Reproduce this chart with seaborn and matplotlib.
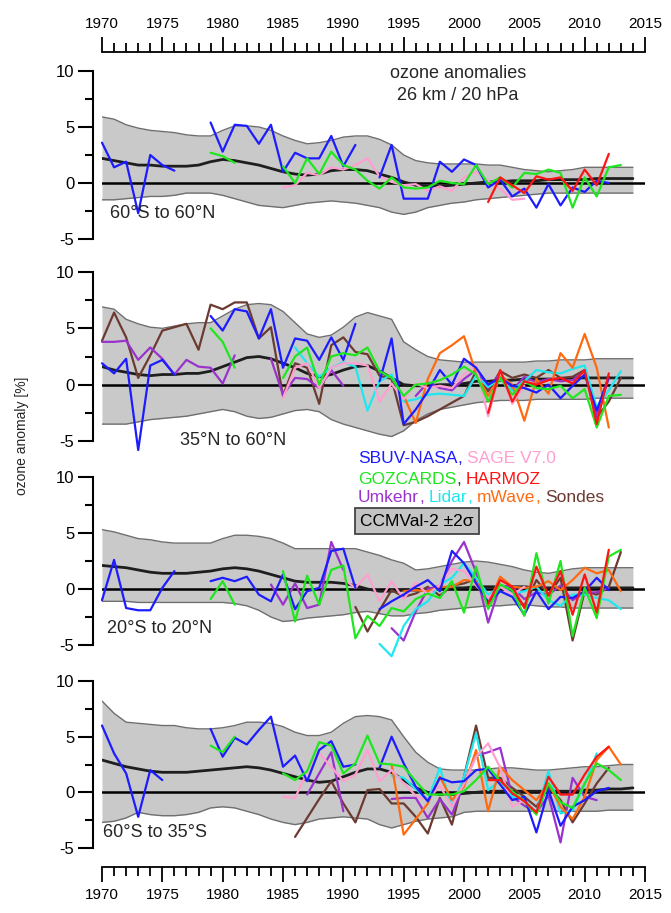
import matplotlib
matplotlib.use("Agg")
import matplotlib.pyplot as plt
from matplotlib.ticker import MultipleLocator, FixedLocator
import pandas as pd
import seaborn as sns

sns.set_style("white")
plt.rcParams["font.family"] = ["Liberation Sans", "DejaVu Sans"]
plt.rcParams["axes.unicode_minus"] = False

YEARS = list(range(1970, 2015))

# ---- CCMVal-2 model envelope (upper / lower 2-sigma) and multi-model mean, 1970-2014 ----
P1_UP = [5.9, 5.7, 5.2, 4.9, 4.7, 4.6, 4.5, 4.3, 4.2, 4.2, 4.7, 5.1, 5.1, 5.0, 4.7, 4.2, 3.8, 3.5, 3.6, 3.8,
         4.1, 4.2, 4.2, 3.9, 3.4, 2.5, 2.0, 1.8, 1.7, 1.7, 1.7, 1.7, 1.6, 1.6, 1.4, 1.2, 1.1, 1.0, 1.1, 1.2,
         1.4, 1.4, 1.4, 1.4, 1.4]
P1_LO = [-1.5, -1.5, -1.4, -1.3, -1.2, -1.2, -1.1, -0.9, -0.9, -0.9, -1.1, -1.4, -1.7, -2.0, -2.1, -2.2, -2.0,
         -1.8, -1.7, -1.6, -1.7, -1.8, -2.0, -2.2, -2.6, -2.8, -2.6, -2.2, -2.0, -1.8, -1.7, -1.5, -1.4, -1.3,
         -1.2, -1.1, -1.0, -0.9, -0.9, -0.9, -0.9, -0.9, -0.9, -0.9, -0.9]
P1_MEAN = [2.2, 2.0, 1.8, 1.6, 1.6, 1.5, 1.5, 1.5, 1.6, 1.9, 2.1, 2.0, 1.8, 1.6, 1.3, 1.0, 0.8, 0.7, 0.8, 1.1,
           1.2, 1.2, 1.1, 0.8, 0.5, 0.1, -0.2, -0.3, -0.3, -0.2, -0.1, 0.0, 0.1, 0.1, 0.2, 0.2, 0.2, 0.3, 0.3,
           0.3, 0.3, 0.4, 0.4, 0.4, 0.4]

P2_UP = [6.9, 6.7, 5.8, 5.4, 5.1, 5.0, 5.2, 5.4, 5.5, 5.5, 6.1, 6.7, 7.1, 7.2, 7.1, 6.5, 5.5, 4.5, 4.2, 4.4,
         5.1, 6.0, 6.4, 6.1, 5.8, 3.8, 3.1, 2.5, 2.2, 2.1, 2.0, 2.0, 2.0, 2.0, 2.0, 2.0, 2.1, 2.1, 2.2, 2.2,
         2.2, 2.3, 2.3, 2.3, 2.3]
P2_LO = [-3.5, -3.5, -3.5, -3.3, -3.1, -3.0, -2.9, -2.8, -2.6, -2.4, -2.2, -2.4, -2.8, -3.0, -2.9, -2.6, -2.3,
         -2.2, -2.4, -3.1, -3.5, -3.8, -4.1, -4.4, -4.6, -4.1, -3.2, -2.6, -2.2, -2.0, -1.8, -1.6, -1.5, -1.4,
         -1.4, -1.4, -1.3, -1.3, -1.3, -1.3, -1.3, -1.2, -1.2, -1.2, -1.2]
P2_MEAN = [1.6, 1.3, 1.1, 0.9, 0.8, 0.9, 0.9, 1.0, 1.0, 1.2, 1.6, 2.0, 2.4, 2.5, 2.3, 1.9, 1.5, 1.0, 0.7, 0.9,
           1.3, 1.6, 1.7, 1.2, 0.6, 0.0, -0.1, -0.1, 0.0, 0.0, 0.1, 0.3, 0.3, 0.4, 0.4, 0.5, 0.5, 0.5, 0.5,
           0.6, 0.6, 0.6, 0.6, 0.6, 0.6]

P3_UP = [5.3, 5.1, 4.8, 4.5, 4.4, 4.2, 4.1, 4.1, 4.1, 4.1, 4.5, 4.8, 4.8, 4.7, 4.5, 4.1, 3.6, 3.6, 3.6, 3.6,
         3.6, 3.6, 3.3, 3.0, 2.6, 2.3, 1.7, 1.8, 2.0, 2.2, 2.4, 2.5, 2.4, 2.2, 2.0, 1.7, 1.5, 1.4, 1.6, 1.8,
         1.9, 1.9, 1.9, 1.9, 1.9]
P3_LO = [-1.1, -1.1, -1.1, -1.2, -1.2, -1.2, -1.2, -1.2, -1.2, -1.2, -1.2, -1.3, -1.5, -1.9, -2.5, -2.9, -2.8,
         -2.6, -2.5, -2.4, -2.3, -2.1, -2.0, -2.2, -2.4, -2.4, -2.2, -2.1, -1.9, -1.8, -1.7, -1.6, -1.5, -1.5,
         -1.4, -1.4, -1.5, -1.6, -1.6, -1.7, -1.7, -1.7, -1.7, -1.7, -1.7]
P3_MEAN = [2.1, 2.0, 1.9, 1.7, 1.5, 1.4, 1.4, 1.4, 1.5, 1.6, 1.8, 1.9, 1.8, 1.6, 1.3, 1.0, 0.7, 0.6, 0.6, 0.6,
           0.5, 0.3, 0.0, -0.2, -0.2, -0.1, -0.1, 0.0, 0.0, 0.1, 0.1, 0.2, 0.2, 0.2, 0.2, 0.2, 0.1, 0.1, 0.1,
           0.1, 0.1, 0.1, 0.1, 0.1, 0.1]

P4_UP = [8.2, 7.1, 6.3, 6.2, 6.1, 6.0, 6.0, 5.8, 5.7, 5.7, 5.8, 6.0, 6.3, 6.3, 6.2, 5.9, 5.4, 5.1, 5.1, 5.4,
         6.2, 6.8, 6.9, 6.8, 6.5, 5.0, 3.6, 2.7, 2.1, 2.0, 2.0, 2.0, 2.1, 2.2, 2.2, 2.1, 2.0, 2.0, 2.1, 2.2,
         2.3, 2.3, 2.4, 2.5, 2.5]
P4_LO = [-2.7, -2.6, -2.3, -1.8, -2.0, -2.1, -2.1, -2.0, -1.8, -1.4, -1.3, -1.4, -1.7, -2.0, -2.4, -2.7, -2.9,
         -2.7, -2.4, -2.3, -2.2, -2.3, -2.4, -2.9, -3.2, -2.9, -2.6, -2.4, -2.3, -2.2, -1.8, -1.7, -1.7, -1.7,
         -1.7, -1.7, -1.7, -1.7, -1.7, -1.7, -1.7, -1.7, -1.6, -1.6, -1.6]
P4_MEAN = [2.9, 2.6, 2.3, 2.1, 1.9, 1.8, 1.8, 1.8, 1.9, 2.0, 2.1, 2.2, 2.3, 2.2, 2.0, 1.7, 1.4, 1.1, 0.9, 1.0,
           1.4, 1.8, 2.1, 2.1, 1.8, 1.1, 0.4, 0.0, -0.2, -0.2, -0.1, 0.0, 0.1, 0.1, 0.1, 0.1, 0.1, 0.1, 0.1,
           0.1, 0.2, 0.2, 0.3, 0.3, 0.4]

# ---- observed annual anomalies [%]: (first year, values); None marks a missing year ----
P1_SBUV = (1970, [3.6, 1.4, 1.9, -2.7, 2.5, 1.6, 1.1, None, None, 5.4, 2.8, 5.2, 5.1, 3.5, 5.2, 1.0, 2.7, 2.2,
                  2.2, 4.2, 1.5, 3.4, None, 0.5, 3.4, -1.4, -1.4, -1.4, 1.9, 1.0, 2.1, 1.6, -0.4, 0.3, -1.2,
                  -0.5, -2.2, -0.1, -2.0, -0.4, -0.8, 0.2, 0.0])
P1_SAGE = (1985, [-0.4, -0.2, 0.9, 0.7, 1.4, 1.2, 1.6, 2.2, 0.6, 0.1, -0.2, -0.1, -0.7, -0.3, -0.7, 0.5, 1.0,
                  0.2, -0.5, -1.5, -1.4])
P1_GOZCARDS = (1979, [2.7, 2.4, 1.8, None, None, None, 1.5, 0.0, 2.2, 0.8, 2.8, 1.6, 1.2, 0.2, -0.5, 0.5, -0.4,
                      -0.5, -0.4, 0.2, 0.0, -0.1, 1.6, -0.1, 0.5, -0.4, 0.9, 0.8, 1.2, 0.9, -2.2, 0.5, -1.2,
                      1.4, 1.6])
P1_HARMOZ = (2002, [-1.7, 0.5, -0.2, -0.9, 0.6, 0.3, 0.5, -0.7, 1.2, -0.2, 2.6])

P2_SBUV = (1970, [1.9, 1.0, 2.3, -5.8, 1.7, 2.2, 0.9, None, None, 6.1, 4.8, 6.7, 6.5, 4.1, 6.7, 1.5, 4.1, 3.9,
                  2.2, 4.2, 2.2, 5.4, None, 0.3, 4.1, -3.5, -2.2, -0.6, 1.3, 0.0, 2.3, 1.5, 0.0, 0.6, -0.1,
                  -0.3, -0.7, 0.0, -1.2, -0.1, 0.9, -2.3, 0.7])
P2_SAGE = (1985, [-1.2, 1.5, 1.9, -0.3, 1.5, 1.9, 1.9, 1.7, -1.5, 0.1, -1.3, 0.1, -0.3, -0.1, -0.3, 0.9, 1.7,
                  -2.8, 1.2, -1.7, -0.1])
P2_GOZCARDS = (1979, [5.0, 3.8, 1.5, None, None, None, 0.6, 2.5, 3.3, 0.0, 2.5, 2.8, 2.6, 3.3, 1.2, 0.6, -1.0,
                      0.0, 0.1, 0.4, 0.9, 1.6, 0.9, -1.5, 0.6, -0.9, 0.3, -0.3, -0.4, -0.1, -1.2, -0.4, -3.8,
                      -1.0, -0.9])
P2_HARMOZ = (2002, [-2.5, 1.3, -1.5, 0.3, 0.0, 0.4, 0.6, 0.1, 1.3, -3.5, 1.0])
P2_UMKEHR = (1970, [3.8, 3.8, 3.9, 2.2, 3.3, 2.3, 0.9, 2.2, 1.6, 1.5, 0.1, 2.6, None, None, 2.3, -0.9, 0.6,
                    0.5, -0.3, 1.3, -0.1, None, None, None, None, None, -1.0, 0.2, -0.3, -0.5, 0.5, 1.3,
                    -0.3, 1.0, -0.5, 0.7, 0.2, 0.5, 0.3, 0.4, 1.2, -2.8, 0.6])
P2_LIDAR = (1986, [3.3, 1.9, 0.7, 1.5, 2.0, 1.6, -2.3, 0.3, 0.9, -1.5, -1.3, -0.9, -0.8, -0.9, -1.0, 0.8,
                   -0.2, 0.5, -0.5, 0.3, 1.3, 1.1, 1.0, 1.4, 1.7, -2.0, -0.5, 1.2])
P2_MWAVE = (1995, [-1.0, -3.4, 0.5, 2.8, 3.5, 4.3, 1.0, -1.0, 0.8, 0.0, -3.2, 0.5, -0.8, 2.8, 1.5, 4.5, 1.5,
                   -3.8])
P2_SONDES = (1970, [3.9, 6.4, 4.2, 0.6, 2.6, 4.8, 5.1, 5.4, 3.1, 7.1, 6.7, 7.3, 7.3, 4.1, 5.1, -1.0, 1.9, 1.5,
                    -1.7, 3.5, 4.2, 2.9, 2.7, 0.8, 0.5, -3.6, -3.3, -2.8, -2.2, -1.6, -1.0, 1.2, -0.6, 1.2,
                    0.6, 0.9, 0.6, 1.3, 0.6, 0.7, 1.3, -2.9, -1.5, 0.6])

P3_SBUV = (1970, [-1.0, 2.6, -1.7, -1.9, -1.9, 0.1, 1.6, None, None, 0.7, 1.0, 0.7, 1.1, -0.5, -1.1, 1.3, -1.8,
                  -0.2, 0.1, 3.4, 3.6, 0.1, None, -1.8, -1.1, -0.5, 0.2, 0.8, -0.2, 3.4, 2.3, 0.5, -1.2, -0.2,
                  -0.7, -2.3, -0.2, -1.8, -0.7, -0.8, -0.2, 1.0, -0.1])
P3_SAGE = (1990, [0.9, 0.1, 1.3, -1.1, 0.7, -0.9, 0.6, -0.5, 0.4, 1.8, 1.6, 0.3, -0.8, 0.2, -0.5, 0.2])
P3_GOZCARDS = (1979, [-0.9, 0.7, -1.4, None, None, None, 1.6, -2.9, 1.2, -1.4, 1.7, 2.1, -4.4, -2.4, -3.3, -1.7,
                      -2.0, -0.9, -0.4, -0.8, 0.7, -2.1, 2.0, -1.8, 0.4, -0.1, -2.4, 3.2, -1.3, 2.5, -4.2,
                      0.1, -2.6, 2.9, 3.5])
P3_HARMOZ = (2002, [-1.3, 0.8, 0.2, -1.7, 2.0, -0.6, 1.6, -2.3, 1.3, -2.1, 3.5])
P3_UMKEHR = (1984, [0.4, -1.4, 0.5, -1.7, -1.4, 4.2, 1.7, None, None, None, -3.5, -4.6, -2.0, 0.0, 0.3, 2.5,
                    4.2, 1.5, -3.0, 0.3, 0.2, -0.9, -0.3, -0.5, 0.3, -1.0, -0.3, -0.3, 0.1])
P3_LIDAR = (1993, [-4.9, -6.0, -3.3, -1.8, -1.1, 0.4, 1.0, 2.3, 1.0, -0.5, 0.2, -0.4, -0.2, 0.2, -1.0, -1.5,
                   -0.5, -0.5, -0.8, -1.0, -1.8])
P3_MWAVE = (1995, [-0.2, -0.1, -0.2, 0.2, 0.2, 0.8, 0.7, -1.4, 1.1, 0.2, 0.1, 0.2, 0.7, -0.1, 0.8, 1.9, 1.4,
                   1.7, -0.2])
P3_SONDES = (1991, [-1.6, -3.8, -1.9, -0.1, -0.7, -0.4, 0.2, -0.6, 0.3, 0.5, 0.9, -1.2, 0.4, -0.3, -1.5, 0.8,
                    -0.5, 1.0, -4.6, -0.2, -0.5, 0.2, 3.3])

P4_SBUV = (1970, [6.0, 3.5, 1.7, -2.2, 2.0, 1.1, None, None, None, 5.7, 3.2, 4.9, 4.3, 5.6, 6.8, 2.3, 3.3, 1.0,
                  3.8, 4.6, 2.3, 2.5, None, 2.2, 5.0, 2.6, 0.5, -0.8, 1.3, 0.9, 1.0, 2.0, 2.1, 0.7, -0.7,
                  -0.4, -3.6, 0.2, -3.0, -1.3, -0.7, 0.1, 0.4])
P4_SAGE = (1985, [-0.4, -0.5, 1.8, 3.5, 2.3, 1.0, 1.6, 3.8, 1.0, 2.0, 0.8, -0.3, -0.7, 0.6, -1.3, 0.8, 3.2,
                  4.4, 2.2, -1.3, -0.7])
P4_GOZCARDS = (1979, [4.2, 3.6, 5.0, None, None, None, 1.7, 1.1, 1.9, 4.5, 4.2, 1.7, 2.6, 5.1, 2.6, 2.5, 2.3,
                      1.0, -0.2, -0.2, -0.2, 0.1, 1.1, 2.3, 1.0, 0.1, -0.8, -2.0, 0.8, -0.9, -1.4, 0.8, 2.6,
                      2.0, 1.1])
P4_HARMOZ = (2002, [1.1, 1.1, -0.1, -0.8, -1.8, 1.4, -0.2, -0.2, 1.6, 3.2, 4.1])
P4_UMKEHR = (1987, [-0.2, 1.7, 3.6, -1.7, None, None, None, -0.6, -0.5, -0.5, -2.3, -0.6, -2.0, 0.8, 3.3, 3.6,
                    4.0, -0.4, -1.2, -1.8, -0.3, -4.5, 1.3, -0.4, -0.7])
P4_LIDAR = (1994, [1.5, 1.3, 0.3, -0.7, 2.2, -1.3, 1.4, 5.3, 0.2, 1.1, -0.4, -0.7, -1.8, 1.9, -1.9, -1.6, 0.7,
                   3.5])
P4_MWAVE = (1994, [2.5, -3.8, -2.4, -1.0, 1.4, -0.7, 0.5, 3.8, -1.7, 2.3, 1.1, 0.2, -0.7, 0.8, -1.3, -2.4,
                   -0.4, 2.9, 4.1, 2.5])
P4_SONDES = (1986, [-4.0, -2.3, -0.6, 1.0, -1.0, -2.7, 0.2, 0.3, -1.0, -1.0, -2.2, -3.7, -0.5, -2.9, 1.4, 6.0,
                    1.3, 1.3, 0.4, -0.4, -1.3, 0.5, -0.7, -2.7, -1.0, 0.8, 2.2])

REGIONS = ["60°S to 60°N", "35°N to 60°N", "20°S to 20°N", "60°S to 35°S"]

COLORS = {
    "Sondes": "#6b3a30",
    "Umkehr": "#9a32cd",
    "Lidar": "#1ee8ee",
    "mWave": "#ff6a10",
    "SAGE V7.0": "#ff9fd0",
    "SBUV-NASA": "#1c1cff",
    "GOZCARDS": "#1fe61f",
    "HARMOZ": "#ff1414",
}
DRAW_ORDER = ["Sondes", "Umkehr", "Lidar", "mWave", "SAGE V7.0", "SBUV-NASA", "GOZCARDS", "HARMOZ"]

PANELS = [
    dict(up=P1_UP, lo=P1_LO, mean=P1_MEAN,
         series={"SBUV-NASA": P1_SBUV, "SAGE V7.0": P1_SAGE, "GOZCARDS": P1_GOZCARDS, "HARMOZ": P1_HARMOZ}),
    dict(up=P2_UP, lo=P2_LO, mean=P2_MEAN,
         series={"SBUV-NASA": P2_SBUV, "SAGE V7.0": P2_SAGE, "GOZCARDS": P2_GOZCARDS, "HARMOZ": P2_HARMOZ,
                 "Umkehr": P2_UMKEHR, "Lidar": P2_LIDAR, "mWave": P2_MWAVE, "Sondes": P2_SONDES}),
    dict(up=P3_UP, lo=P3_LO, mean=P3_MEAN,
         series={"SBUV-NASA": P3_SBUV, "SAGE V7.0": P3_SAGE, "GOZCARDS": P3_GOZCARDS, "HARMOZ": P3_HARMOZ,
                 "Umkehr": P3_UMKEHR, "Lidar": P3_LIDAR, "mWave": P3_MWAVE, "Sondes": P3_SONDES}),
    dict(up=P4_UP, lo=P4_LO, mean=P4_MEAN,
         series={"SBUV-NASA": P4_SBUV, "SAGE V7.0": P4_SAGE, "GOZCARDS": P4_GOZCARDS, "HARMOZ": P4_HARMOZ,
                 "Umkehr": P4_UMKEHR, "Lidar": P4_LIDAR, "mWave": P4_MWAVE, "Sondes": P4_SONDES}),
]


def long_frame(series):
    """Long-form table; each unbroken run of years gets its own segment id."""
    rows = []
    for name, (start, values) in series.items():
        seg, gap = 0, True
        for i, v in enumerate(values):
            if v is None:
                gap = True
                continue
            if gap:
                seg += 1
                gap = False
            rows.append((name, f"{name}#{seg}", start + i, v))
    return pd.DataFrame(rows, columns=["dataset", "segment", "year", "anomaly"])


W, H = 671, 913
fig = plt.figure(figsize=(W / 100, H / 100), dpi=100)

X0, X1 = 102, 645          # pixel columns of 1970 and 2015
LEFT, WIDTH = X0 / W, (X1 - X0) / W


def px_box(top, bottom):
    return [LEFT, 1 - bottom / H, WIDTH, (bottom - top) / H]


# shared time axis drawn above and below the stack of panels
ax_t = fig.add_axes(px_box(52, 867))
ax_t.set_xlim(1970, 2015)
ax_t.set_ylim(0, 1)
ax_t.patch.set_alpha(0)
ax_t.set_yticks([])
for side in ("left", "right"):
    ax_t.spines[side].set_visible(False)
for side in ("top", "bottom"):
    ax_t.spines[side].set_linewidth(1.3)
    ax_t.spines[side].set_color("black")
ax_t.xaxis.set_major_locator(MultipleLocator(5))
ax_t.xaxis.set_minor_locator(MultipleLocator(1))
ax_t.tick_params(axis="x", which="both", direction="out", top=True, bottom=True,
                 labeltop=True, labelbottom=True, width=1.3, colors="black", labelsize=11)
ax_t.tick_params(axis="x", which="major", length=11, pad=4)
ax_t.tick_params(axis="x", which="minor", length=6.5)

PANEL_PX = [(71, 239), (272, 441), (477, 645), (681, 848)]
axes = []
for (top, bottom), spec in zip(PANEL_PX, PANELS):
    ax = fig.add_axes(px_box(top, bottom))
    ax.patch.set_alpha(0)
    ax.set_xlim(1970, 2015)
    ax.set_ylim(-5, 10)

    # model envelope and mean
    ax.fill_between(YEARS, spec["lo"], spec["up"], color="#c9c9c9", lw=0, zorder=1)
    ax.plot(YEARS, spec["up"], color="#6f6f6f", lw=1.0, zorder=2)
    ax.plot(YEARS, spec["lo"], color="#6f6f6f", lw=1.0, zorder=2)
    ax.axhline(0, color="black", lw=1.8, zorder=3)
    sns.lineplot(x=YEARS, y=spec["mean"], color="#1e1e1e", lw=2.0, ax=ax, zorder=4)

    # observations
    df = long_frame(spec["series"])
    order = [k for k in DRAW_ORDER if k in spec["series"]]
    sns.lineplot(data=df, x="year", y="anomaly", hue="dataset", hue_order=order, units="segment",
                 estimator=None, palette=COLORS, lw=1.6, legend=False, ax=ax, zorder=5, clip_on=False)

    ax.set_xlabel("")
    ax.set_ylabel("")
    ax.set_xticks([])
    for side in ("top", "right", "bottom"):
        ax.spines[side].set_visible(False)
    ax.spines["left"].set_position(("outward", 6.5))
    ax.spines["left"].set_linewidth(1.5)
    ax.spines["left"].set_color("black")
    ax.yaxis.set_major_locator(FixedLocator([-5, 0, 5, 10]))
    ax.yaxis.set_minor_locator(FixedLocator([-2.5, 2.5, 7.5]))
    ax.tick_params(axis="y", which="both", left=True, direction="out", width=1.5, colors="black",
                   labelsize=12)
    ax.tick_params(axis="y", which="major", length=10.5, pad=3)
    ax.tick_params(axis="y", which="minor", length=5.5)
    axes.append(ax)

# region names
for (x, y), name in zip([(110, 214), (180, 440), (107, 628), (103, 832)], REGIONS):
    fig.text(x / W, 1 - y / H, name, fontsize=13, ha="left", va="center")

fig.text(458 / W, 1 - 73 / H, "ozone anomalies", fontsize=13, ha="center", va="center")
fig.text(458 / W, 1 - 96 / H, "26 km / 20 hPa", fontsize=13, ha="center", va="center")
fig.text(22 / W, 1 - 436 / H, "ozone anomaly [%]", fontsize=10, rotation=90, ha="center", va="center")


# colour-coded dataset key
def key_line(x, y, parts, size=12.5):
    txt = fig.text(x / W, 1 - y / H, parts[0][0], color=parts[0][1], fontsize=size, ha="left", va="center")
    for s, c, gap in parts[1:]:
        txt = ax_t.annotate(s, xy=(1, 0), xycoords=txt, xytext=(gap, 0), textcoords="offset points",
                            color=c, fontsize=size, ha="left", va="bottom")


key_line(358, 458, [("SBUV-NASA", COLORS["SBUV-NASA"]), (",", COLORS["SBUV-NASA"], 0),
                    ("SAGE V7.0", COLORS["SAGE V7.0"], 3.5)])
key_line(358, 479, [("GOZCARDS", COLORS["GOZCARDS"]), (",", "#333333", 0),
                    ("HARMOZ", COLORS["HARMOZ"], 3.5)])
key_line(358, 498, [("Umkehr", COLORS["Umkehr"]), (",", COLORS["Umkehr"], 0),
                    ("Lidar", COLORS["Lidar"], 3.5), (",", COLORS["Lidar"], 0),
                    ("mWave", COLORS["mWave"], 3.5), (",", COLORS["mWave"], 0),
                    ("Sondes", COLORS["Sondes"], 3.5)])
fig.text(360 / W, 1 - 521 / H, "CCMVal-2 ±2σ", fontsize=12.5, ha="left", va="center", color="black",
         bbox=dict(boxstyle="square,pad=0.3", fc="#c4c4c4", ec="#444444", lw=1.3))

fig.savefig("out.png", dpi=100)
